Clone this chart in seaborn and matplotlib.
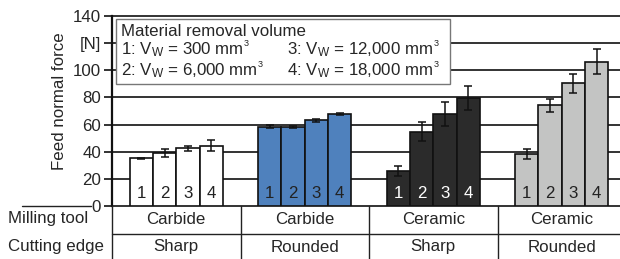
import numpy as np
import pandas as pd
import matplotlib
matplotlib.use("Agg")
import matplotlib.pyplot as plt
import seaborn as sns

# chart data
tools = ["Carbide", "Carbide", "Ceramic", "Ceramic"]
edges = ["Sharp", "Rounded", "Sharp", "Rounded"]
volumes = ["1", "2", "3", "4"]
force = [
    [35.2, 39.3, 42.5, 44.5],   # carbide / sharp
    [58.5, 58.4, 63.1, 67.8],   # carbide / rounded
    [26.0, 54.8, 67.8, 79.4],   # ceramic / sharp
    [38.3, 74.2, 90.4, 106.3],  # ceramic / rounded
]
err = [
    [0.4, 3.0, 2.0, 4.0],
    [1.2, 0.6, 1.0, 0.9],
    [3.7, 7.0, 8.6, 9.0],
    [3.5, 5.0, 7.0, 9.2],
]
ytick_vals = [0, 20, 40, 60, 80, 100, 120, 140]
ytick_labels = ["0", "20", "40", "60", "80", "100", "[N]", "140"]
legend_title = "Material removal volume"
legend_items = [(r"1: V$_\mathregular{W}$ = 300 mm", 121, 50),
                (r"2: V$_\mathregular{W}$ = 6,000 mm", 121, 71),
                (r"3: V$_\mathregular{W}$ = 12,000 mm", 287, 50),
                (r"4: V$_\mathregular{W}$ = 18,000 mm", 287, 71)]

group_colors = ["#ffffff", "#4f81bd", "#2b2b2b", "#c3c4c3"]
num_colors = ["#222222", "#222222", "#ffffff", "#222222"]

sns.set_style("white")
plt.rcParams["font.family"] = ["Liberation Sans", "DejaVu Sans"]
plt.rcParams["mathtext.fontset"] = "custom"
plt.rcParams["mathtext.rm"] = "Liberation Sans"
plt.rcParams["mathtext.it"] = "Liberation Sans"
FS = 12.2

groups = [f"{t}\n{e}" for t, e in zip(tools, edges)]
rows = []
for g, name in enumerate(groups):
    for v, vol in enumerate(volumes):
        rows.append({"group": name, "volume": vol, "force": force[g][v]})
df = pd.DataFrame(rows)

W, H = 620, 259
fig = plt.figure(figsize=(6.2, 2.59), dpi=100)
ax = fig.add_axes([112 / W, 1 - 206 / H, 1 - 112 / W, 190 / H])

sns.barplot(data=df, x="group", y="force", hue="volume", order=groups,
            hue_order=volumes, width=0.725, gap=0, errorbar=None,
            legend=False, ax=ax, zorder=3)

bar_conts = list(ax.containers)
for v, cont in enumerate(bar_conts):
    for g, bar in enumerate(cont.patches):
        bar.set_facecolor(group_colors[g])
        bar.set_edgecolor("#111111")
        bar.set_linewidth(1.2)
        cx = bar.get_x() + bar.get_width() / 2
        ax.errorbar(cx, force[g][v], yerr=err[g][v], fmt="none",
                    ecolor="#111111", elinewidth=1.1, capsize=2.8,
                    capthick=1.1, zorder=4)
        ax.text(cx, 4, volumes[v], ha="center", va="bottom",
                fontsize=FS, color=num_colors[g], zorder=5)

ax.set_ylim(0, 140)
ax.set_xlim(-0.5, -0.5 + (W - 112) / 128.5)
ax.set_yticks(ytick_vals)
ax.set_yticklabels(ytick_labels, fontsize=FS)
ax.set_xticks([])
ax.set_xlabel("")
ax.set_ylabel("Feed normal force", fontsize=FS)
ax.yaxis.set_label_coords(-0.088, 0.55)
ax.tick_params(axis="y", direction="out", length=6, width=1.2,
               color="#111111", pad=2, left=True)
for y in ytick_vals[1:]:
    ax.axhline(y, color="#111111", lw=1.2, zorder=1, clip_on=False)
for s in ["top", "right"]:
    ax.spines[s].set_visible(False)
ax.spines["left"].set_linewidth(1.6)
ax.spines["left"].set_color("#111111")
ax.spines["bottom"].set_linewidth(1.2)
ax.spines["bottom"].set_color("#111111")

# legend box
def fx(px):
    return px / W

def fy(py):
    return 1 - py / H

box = plt.Rectangle((fx(116), fy(84)), fx(450) - fx(116), fy(19) - fy(84),
                    transform=fig.transFigure, facecolor="white",
                    edgecolor="#777777", lw=1.0, zorder=10)
fig.add_artist(box)
fig.text(fx(121), fy(31), legend_title, fontsize=FS, va="center", zorder=11)
renderer = fig.canvas.get_renderer()
for label, px, py in legend_items:
    t = fig.text(fx(px), fy(py), label, fontsize=FS, va="center", zorder=11)
    bb = t.get_window_extent(renderer)
    # small superscript 3 after "mm"
    fig.text(bb.x1 / fig.bbox.width, fy(py - 6), "3",
             fontsize=6.5, va="center", zorder=11)

# table under the chart
line_kw = dict(color="#222222", lw=1.0, transform=fig.transFigure)
fig.add_artist(plt.Line2D([fx(22), fx(91)], [fy(206), fy(206)], **line_kw))
fig.add_artist(plt.Line2D([fx(112), 1], [fy(234), fy(234)], **line_kw))
for xb in [112, 240.7, 369.2, 497.7]:
    fig.add_artist(plt.Line2D([fx(xb), fx(xb)], [fy(206), 0], **line_kw))
fig.text(fx(8), fy(219), "Milling tool", fontsize=FS, va="center")
fig.text(fx(8), fy(247), "Cutting edge", fontsize=FS, va="center")
for g in range(4):
    cx = 112 + 128.5 * (g + 0.5)
    fig.text(fx(cx), fy(219), tools[g], fontsize=FS, ha="center", va="center")
    fig.text(fx(cx), fy(247), edges[g], fontsize=FS, ha="center", va="center")

fig.savefig("out.png", dpi=100)
